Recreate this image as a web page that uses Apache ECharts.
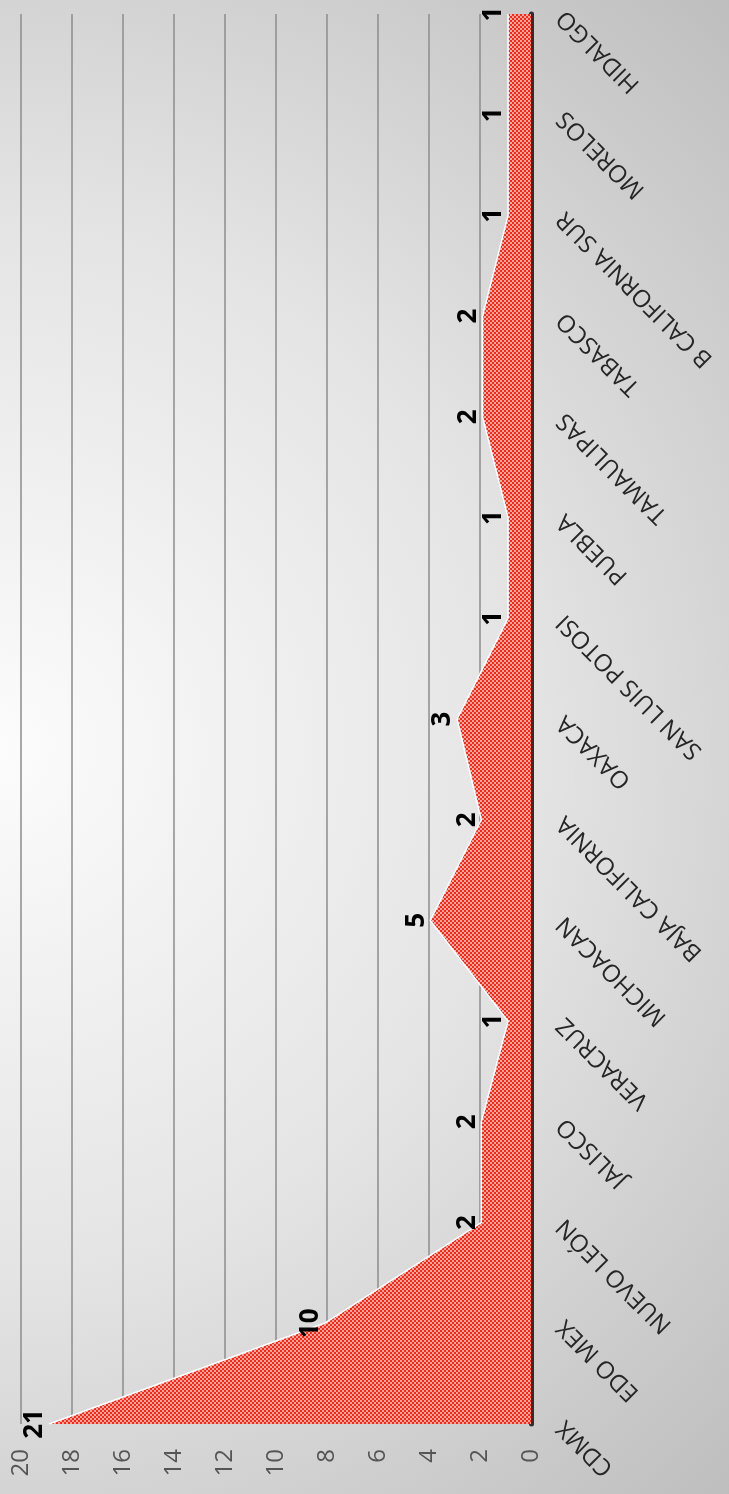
<!DOCTYPE html>
<html>
<head>
<meta charset="utf-8">
<script src="https://cdn.jsdelivr.net/npm/echarts@6/dist/echarts.min.js"></script>
<style>
html,body{margin:0;padding:0;}
#chart{width:729px;height:1494px;}
</style>
</head>
<body>
<div id="chart"></div>
<script>
// Categories (bottom to top in the picture)
var categories = ['CDMX', 'EDO MEX', 'NUEVO LEÓN', 'JALISCO', 'VERACRUZ', 'MICHOACAN', 'BAJA CALIFORNIA', 'OAXACA', 'SAN LUIS POTOSI', 'PUEBLA', 'TAMAULIPAS', 'TABASCO', 'B CALIFORNIA SUR', 'MORELOS', 'HIDALGO'];
// Values as plotted against the value axis
var plottedValues = [18.9, 8.1, 1.95, 1.95, 0.9, 3.95, 1.95, 2.9, 0.9, 0.9, 1.9, 1.9, 0.9, 0.9, 0.9];
// Data labels as printed
var labelValues = ['21', '10', '2', '2', '1', '5', '2', '3', '1', '1', '2', '2', '1', '1', '1'];
// Value axis ticks
var valueTicks = [0, 2, 4, 6, 8, 10, 12, 14, 16, 18, 20];

var pat = document.createElement('canvas');
pat.width = 4; pat.height = 4;
var pc = pat.getContext('2d');
pc.fillStyle = '#ff2414';
pc.fillRect(0, 0, 4, 4);
pc.fillStyle = '#ffaaa0';
pc.fillRect(0, 0, 2, 2);
pc.fillRect(2, 2, 2, 2);

var chart = echarts.init(document.getElementById('chart'), null, {renderer: 'canvas'});
chart.setOption({
  backgroundColor: {
    type: 'radial', x: 0, y: 0.5, r: 1.45,
    colorStops: [
      {offset: 0, color: '#fcfcfc'},
      {offset: 0.5, color: '#e4e4e4'},
      {offset: 1, color: '#bdbdbd'}
    ]
  },
  animation: false,
  grid: {left: 21, right: 198, top: 14, bottom: 70, containLabel: false},
  xAxis: {
    type: 'value',
    inverse: true,
    min: valueTicks[0],
    max: valueTicks[valueTicks.length - 1],
    interval: 2,
    position: 'bottom',
    axisLine: {show: false},
    axisTick: {show: false},
    splitLine: {show: true, lineStyle: {color: '#8c8c8c', width: 1.5}},
    axisLabel: {
      rotate: 90,
      margin: 25,
      color: '#555555',
      fontFamily: 'Open Sans',
      fontSize: 24
    }
  },
  yAxis: {
    type: 'category',
    data: categories,
    position: 'right',
    boundaryGap: false,
    axisLine: {show: true, lineStyle: {color: '#2e2e2e', width: 5}},
    axisTick: {show: false},
    splitLine: {show: false},
    axisLabel: {
      rotate: 135,
      margin: 30,
      color: '#262626',
      fontFamily: 'Open Sans',
      fontSize: 24
    }
  },
  series: [{
    type: 'line',
    data: plottedValues,
    symbol: 'circle',
    symbolSize: 0.1,
    itemStyle: {color: '#ffffff'},
    lineStyle: {color: '#ffffff', width: 1.5},
    areaStyle: {color: {image: pat, repeat: 'repeat'}, opacity: 1},
    label: {
      show: true,
      position: 'left',
      distance: 1,
      rotate: 90,
      align: 'center',
      verticalAlign: 'bottom',
      color: '#000000',
      fontFamily: 'Open Sans',
      fontWeight: 'bold',
      fontSize: 26,
      formatter: function (p) { return labelValues[p.dataIndex]; }
    }
  }]
});
</script>
</body>
</html>
